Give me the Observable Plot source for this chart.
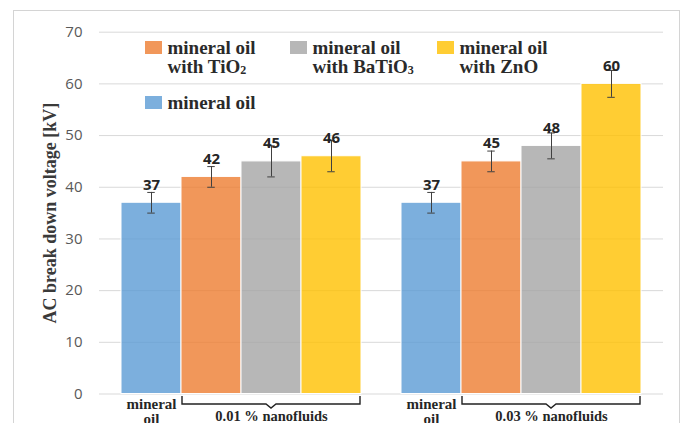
<!DOCTYPE html>
<html>
<head>
<meta charset="utf-8">
<script src="https://cdn.jsdelivr.net/npm/d3@7"></script>
<script src="https://cdn.jsdelivr.net/npm/@observablehq/plot@0.6"></script>
<style>
  html, body { margin: 0; padding: 0; background: #fff; }
  #wrap { position: relative; width: 686px; height: 423px; overflow: hidden; background: #fff; }
  #border { position: absolute; left: 13px; top: 10px; width: 667px; height: 440px; border: 1px solid #d4d4d4; box-sizing: border-box; }
  #chart { position: absolute; left: 0; top: 0; }
  .lg-item { position: absolute; font-family: "Liberation Serif", "Times New Roman", serif; font-weight: bold; font-size: 19px; line-height: 19.5px; color: #2a2a2a; white-space: nowrap; }
  .lg-sw { position: absolute; width: 16.5px; height: 13px; opacity: 0.8; }
  .sub { font-size: 12px; vertical-align: -1px; }
</style>
</head>
<body>
<div id="wrap">
  <div id="border"></div>
  <div id="chart"></div>
  <div id="legend"></div>
</div>
<script>
// ---- data ----
const groups = ["0.01 % nanofluids", "0.03 % nanofluids"];
const series = ["mineral oil", "mineral oil with TiO2", "mineral oil with BaTiO3", "mineral oil with ZnO"];
const colors = ["#5B9BD5", "#ED7D31", "#A5A5A5", "#FFC000"];
const values001 = [37, 42, 45, 46];
const values003 = [37, 45, 48, 60];
const errors001 = [2, 2, 3, 3];
const errors003 = [2, 2, 2.5, 2.6];
const yTicks = [0, 10, 20, 30, 40, 50, 60, 70];
const yTitle = "AC break down voltage [kV]";
const baseLabel = "mineral\noil";

// ---- build rows ----
const groupValues = [values001, values003];
const groupErrors = [errors001, errors003];
const rows = [];
groups.forEach((g, gi) => {
  series.forEach((s, si) => {
    rows.push({group: g, gi, series: s, si, key: g + "|" + s,
      value: groupValues[gi][si], err: groupErrors[gi][si]});
  });
});
const keys = rows.map(d => d.key);
const shift = [-20, 20];

function groupMarks(gi) {
  const data = rows.filter(d => d.gi === gi);
  const dx = shift[gi];
  return [
    Plot.barY(data, {x: "key", y: "value", fill: "series", fillOpacity: 0.8, stroke: "white", strokeWidth: 1, dx}),
    Plot.ruleX(data, {x: "key", y1: d => d.value - d.err, y2: d => d.value + d.err, stroke: "#404040", strokeWidth: 1, dx}),
    Plot.tickY(data, {x: "key", y: d => d.value - d.err, stroke: "#404040", strokeWidth: 1, insetLeft: 26.25, insetRight: 26.25, dx}),
    Plot.tickY(data, {x: "key", y: d => d.value + d.err, stroke: "#404040", strokeWidth: 1, insetLeft: 26.25, insetRight: 26.25, dx}),
    Plot.text(data, {x: "key", y: "value", text: d => String(d.value), lineAnchor: "bottom", dy: -13, dx,
      fontFamily: "'Open Sans', sans-serif", fontWeight: "bold", fontSize: 15, fill: "#262626"}),
    Plot.text(data.filter(d => d.si === 0), {x: "key", text: () => baseLabel, frameAnchor: "bottom", lineAnchor: "top", dy: 4.6, dx,
      lineHeight: 1, fontFamily: "'Liberation Serif', serif", fontWeight: "bold", fontSize: 15, fill: "#262626"}),
    Plot.text(data.filter(d => d.si === 2), {x: "key", text: "group", frameAnchor: "bottom", lineAnchor: "top", dy: 17, dx,
      fontFamily: "'Liberation Serif', serif", fontWeight: "bold", fontSize: 14.5, fill: "#262626"})
  ];
}

const plot = Plot.plot({
  width: 686,
  height: 423,
  marginLeft: 139,
  marginRight: 63,
  marginTop: 31.7,
  marginBottom: 29.5,
  style: {background: "transparent", overflow: "visible"},
  x: {type: "band", domain: keys, padding: 0, axis: null},
  y: {domain: [0, 70], axis: null},
  color: {domain: series, range: colors},
  marks: [
    Plot.ruleY(yTicks, {stroke: "#d9d9d9", strokeWidth: 1, insetLeft: -40, insetRight: -40}),
    Plot.axisY({ticks: yTicks, tickSize: 0, tickPadding: 57, fontSize: 15, fill: "#595959",
      fontFamily: "'Open Sans', sans-serif", label: null}),
    Plot.text([yTitle], {frameAnchor: "left", rotate: -90, dx: -89, textAnchor: "middle", lineAnchor: "middle",
      fontFamily: "'Liberation Serif', serif", fontWeight: "bold", fontSize: 18, fill: "#3a3a3a"}),
    ...groupMarks(0),
    ...groupMarks(1)
  ]
});
document.getElementById("chart").appendChild(plot);

// ---- brackets under nanofluid groups (using Plot's own scales) ----
const sx = plot.scale("x");
const sy = plot.scale("y");
const bw = sx.bandwidth;
const y0 = sy.apply(0);
const svg = d3.select(plot);
const gB = svg.append("g").attr("fill", "none").attr("stroke", "#222").attr("stroke-width", 1.4);
groups.forEach((g, gi) => {
  const dx = shift[gi];
  const x1 = sx.apply(g + "|" + series[1]) + dx + 1;
  const x2 = sx.apply(g + "|" + series[3]) + bw + dx - 1;
  const cx = sx.apply(g + "|" + series[2]) + bw / 2 + dx;
  const yt = y0 + 2.5, yh = y0 + 10.5, yn = y0 + 14.5;
  gB.append("path").attr("d",
    `M${x1},${yt}V${yh}H${cx - 5}L${cx},${yn}L${cx + 5},${yh}H${x2}V${yt}`);
});

// ---- legend ----
const legendOrder = [1, 2, 3, 0];
const legendPos = [[145, 37.8], [290, 37.8], [437, 37.8], [145, 92.8]];
const legend = document.getElementById("legend");
function fmt(s) {
  const parts = s.split(" with ");
  const html = parts.map(p => p.replace(/(\d)/g, '<span class="sub">$1</span>'));
  return html.join("<br>with ");
}
legendOrder.forEach((si, i) => {
  const [lx, ly] = legendPos[i];
  const sw = document.createElement("div");
  sw.className = "lg-sw";
  sw.style.left = lx + "px";
  sw.style.top = (ly + 3.2) + "px";
  sw.style.background = colors[si];
  legend.appendChild(sw);
  const t = document.createElement("div");
  t.className = "lg-item";
  t.style.left = (lx + 22.5) + "px";
  t.style.top = ly + "px";
  t.innerHTML = fmt(series[si]);
  legend.appendChild(t);
});
</script>
</body>
</html>
